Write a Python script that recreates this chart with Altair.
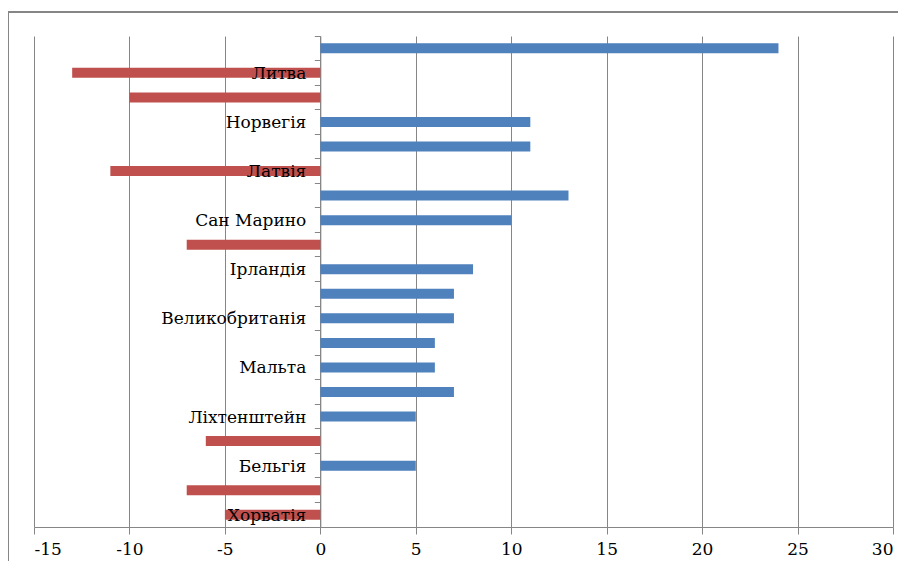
import altair as alt
import pandas as pd

# Category order top -> bottom; only every other category is labelled in the source
labels = ["", "Литва", "", "Норвегія", "", "Латвія", "", "Сан Марино", "",
          "Ірландія", "", "Великобританія", "", "Мальта", "", "Ліхтенштейн",
          "", "Бельгія", "", "Хорватія"]
values = [24, -13, -10, 11, 11, -11, 13, 10, -7, 8, 7, 7, 6, 6, 7, 5, -6, 5, -7, -5]
x_ticks = [-15, -10, -5, 0, 5, 10, 15, 20, 25, 30]

df = pd.DataFrame({
    "rank": list(range(1, len(values) + 1)),
    "label": labels,
    "value": values,
})
df["sign"] = df["value"].apply(lambda v: "pos" if v >= 0 else "neg")
df["zero"] = 0

W, H = 859, 491
FONT = "DejaVu Serif"
GREY = "#868686"

y_enc = alt.Y("rank:O", scale=alt.Scale(paddingInner=0, paddingOuter=0),
              axis=alt.Axis(labels=False, title=None, grid=False, bandPosition=0,
                            domainColor=GREY, tickColor=GREY, tickSize=6,
                            offset=-W / 3))
x_scale = alt.Scale(domain=[-15, 30], nice=False, zero=False)

bars = alt.Chart(df).mark_bar(height=10).encode(
    x=alt.X("value:Q", scale=x_scale,
            axis=alt.Axis(values=x_ticks, title=None, grid=True,
                          gridColor=GREY, domainColor=GREY, tickColor=GREY, tickSize=7,
                          labelExpr="'' + datum.value",
                          labelFont=FONT, labelFontSize=17, labelColor="black",
                          labelPadding=7)),
    x2=alt.X2("zero:Q"),
    y=y_enc,
    color=alt.Color("sign:N", scale=alt.Scale(domain=["pos", "neg"],
                                              range=["#4F81BD", "#C0504D"]), legend=None),
)

text = alt.Chart(df).mark_text(align="right", baseline="middle", dx=-14, dy=1,
                               font=FONT, fontSize=17, color="black").encode(
    x=alt.X("zero:Q", scale=x_scale),
    y=alt.Y("rank:O"),
    text="label:N",
)

border = alt.Chart(df).mark_rect(fill=None, stroke=GREY, strokeWidth=1.5, clip=False).encode(
    x=alt.value(-26), x2=alt.value(W + 60), y=alt.value(-24), y2=alt.value(H + 120)
)

chart = alt.layer(bars, text, border).properties(
    width=W, height=H,
    autosize=alt.AutoSizeParams(type="none"),
    padding={"left": 26, "top": 28, "right": 5, "bottom": 34},
).configure_view(stroke=None)

chart.save("out.html", embed_options={"renderer": "svg", "actions": False})
